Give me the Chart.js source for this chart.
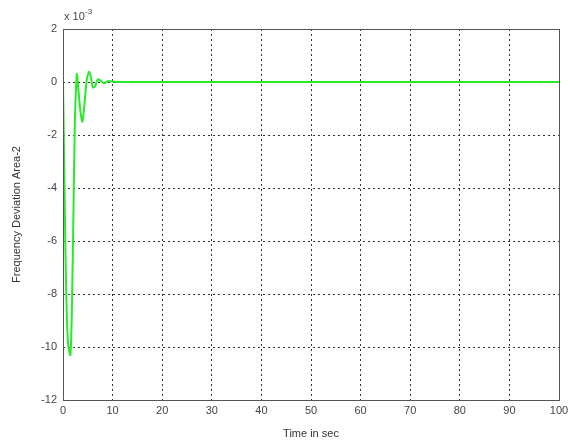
<!DOCTYPE html>
<html>
<head>
<meta charset="utf-8">
<script src="https://cdn.jsdelivr.net/npm/chart.js@4"></script>
<style>
  html, body { margin: 0; padding: 0; background: #fff; }
  #wrap { width: 570px; height: 441px; }
</style>
</head>
<body>
<div id="wrap"><canvas id="freq-chart"></canvas></div>
<script>
// time (s) and frequency deviation (x 1e-3)
const timeSec = [0, 0.2, 0.5, 0.8, 1.1, 1.5, 1.8, 2.1, 2.4, 2.8, 3.1, 3.5, 3.9, 4.3, 4.8, 5.3, 5.7, 6.0, 6.5, 7.0, 7.6, 8.3, 9.0, 10, 11, 12, 15, 20, 30, 40, 50, 60, 70, 80, 90, 100];
const deviation = [0, -2.5, -6.5, -9.0, -10.0, -10.3, -8.5, -5.0, -1.5, 0.3, -0.3, -1.1, -1.5, -0.9, 0.1, 0.4, 0.1, -0.2, -0.15, 0.1, 0.05, -0.05, 0.03, 0.02, 0, 0, 0, 0, 0, 0, 0, 0, 0, 0, 0, 0];
const yTicks = [2, 0, -2, -4, -6, -8, -10, -12];
const xTicks = [0, 10, 20, 30, 40, 50, 60, 70, 80, 90, 100];

const points = timeSec.map((t, i) => ({ x: t, y: deviation[i] }));

// draws the box around the plot and the exponent label
const boxPlugin = {
    id: 'box',
    afterDraw(chart) {
        const ctx = chart.ctx;
        const a = chart.chartArea;
        ctx.save();
        ctx.strokeStyle = '#555';
        ctx.lineWidth = 1;
        ctx.strokeRect(a.left + 0.5, a.top + 0.5, a.right - a.left, a.bottom - a.top);
        ctx.fillStyle = '#444';
        ctx.font = '11px "Liberation Sans", Arial, sans-serif';
        ctx.textBaseline = 'alphabetic';
        ctx.fillText('x 10', a.left + 1, a.top - 9);
        ctx.font = '8px "Liberation Sans", Arial, sans-serif';
        ctx.fillText('-3', a.left + 22, a.top - 15);
        ctx.restore();
    }
};

const gridColor = (ctx) => {
    const v = ctx.tick ? ctx.tick.value : null;
    if (v === 0 && ctx.scale.axis === 'x') return 'rgba(0,0,0,0)';
    if ((v === 2 || v === -12) && ctx.scale.axis === 'y') return 'rgba(0,0,0,0)';
    if (v === 100) return 'rgba(0,0,0,0)';
    return '#333';
};

const config = {
    type: 'line',
    data: {
        datasets: [{
            data: points,
            borderColor: 'rgb(40, 235, 40)',
            borderWidth: 2,
            pointRadius: 0,
            tension: 0.25,
            fill: false
        }]
    },
    plugins: [boxPlugin],
    options: {
        responsive: true,
        maintainAspectRatio: false,
        animation: false,
        layout: { padding: { left: 0, top: 29, right: 11, bottom: 0 } },
        plugins: {
            legend: { display: false },
            tooltip: { enabled: false }
        },
        scales: {
            x: {
                type: 'linear',
                min: 0,
                max: 100,
                afterBuildTicks: (s) => { s.ticks = xTicks.map(v => ({ value: v })); },
                afterFit: (s) => { s.height = 41; s.paddingRight = 0; s.paddingLeft = 0; },
                grid: { color: gridColor, lineWidth: 1, drawTicks: false },
                border: { display: false, dash: [2, 3] },
                ticks: {
                    color: '#444',
                    padding: 4,
                    maxRotation: 0,
                    font: { family: '"Liberation Sans", Arial, sans-serif', size: 11 }
                },
                title: {
                    display: true,
                    text: 'Time in sec',
                    color: '#333',
                    padding: { top: 0, bottom: 0 },
                    font: { family: '"Liberation Sans", Arial, sans-serif', size: 11 }
                }
            },
            y: {
                type: 'linear',
                min: -12,
                max: 2,
                afterBuildTicks: (s) => { s.ticks = yTicks.map(v => ({ value: v })); },
                afterFit: (s) => { s.width = 63; },
                grid: { color: gridColor, lineWidth: 1, drawTicks: false },
                border: { display: false, dash: [2, 3] },
                ticks: {
                    color: '#444',
                    padding: 6,
                    font: { family: '"Liberation Sans", Arial, sans-serif', size: 11 }
                },
                title: {
                    display: true,
                    text: 'Frequency Deviation Area-2',
                    color: '#333',
                    padding: { top: 10, bottom: 6 },
                    font: { family: '"Liberation Sans", Arial, sans-serif', size: 11 }
                }
            }
        }
    }
};

var context = document.getElementById('freq-chart').getContext('2d');
new Chart(context, config);
</script>
</body>
</html>
